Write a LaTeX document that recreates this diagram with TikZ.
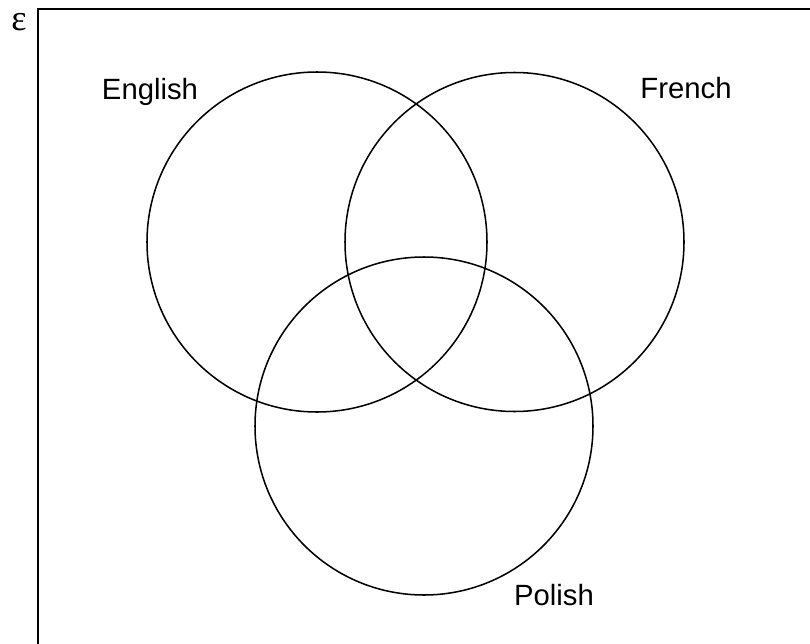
\documentclass[tikz,border=0pt]{standalone}
\usepackage{fontspec}
\setmainfont{Liberation Sans}
\newfontfamily\greekfont{Liberation Serif}
\usetikzlibrary{positioning}
\begin{document}
\begin{tikzpicture}[x=0.03cm,y=-0.03cm,
  set/.style={draw=black,line width=1.3pt},
  setlabel/.style={font=\fontsize{25}{29}\selectfont,anchor=base,inner sep=0pt},
  frame/.style={draw=black,line width=1.5pt}]
\useasboundingbox (0,0) rectangle (810,644);
% universal set (only top and left edges show)
\coordinate (ubl) at (38,644);
\coordinate (utl) at (38,9);
\coordinate (utr) at (810,9);
\draw[frame] (ubl) -- (utl) -- (utr);
\node[font=\greekfont\fontsize{31}{35}\selectfont,inner sep=0pt] (univ) at (19,22) {ε};
% the three sets
\draw[set] (317,242) circle[radius=170];
\draw[set] (514.5,242) circle[radius=169.5];
\draw[set] (424,426) circle[radius=169];
\node[setlabel] (englishlbl) at (150,99) {English};
\node[setlabel] (frenchlbl) at (686,98) {French};
\node[setlabel] (polishlbl) at (554,605) {Polish};
\end{tikzpicture}
\end{document}
